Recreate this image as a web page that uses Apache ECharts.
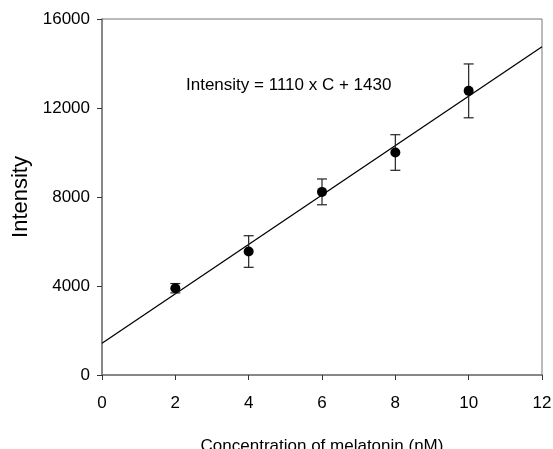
<!DOCTYPE html>
<html>
<head>
<meta charset="utf-8">
<script src="https://cdn.jsdelivr.net/npm/echarts@6/dist/echarts.min.js"></script>
<style>
  html, body { margin: 0; padding: 0; background: #fff; }
  #main { width: 553px; height: 449px; }
</style>
</head>
<body>
<div id="main"></div>
<script>
// melatonin calibration
const concentration = [2, 4, 6, 8, 10];
const intensity = [3900, 5550, 8230, 10000, 12770];
const errorSize = [210, 710, 580, 800, 1210];
const fitLine = [[0, 1430], [12, 14750]];
const equationText = 'Intensity = 1110 x C + 1430';

let chartDom = document.getElementById('main');
let myChart = echarts.init(chartDom);

const font = 'Liberation Sans, Arial, sans-serif';

const points = concentration.map((c, i) => [c, intensity[i]]);
const errData = concentration.map((c, i) => [c, intensity[i] - errorSize[i], intensity[i] + errorSize[i]]);

const option = {
  animation: false,
  backgroundColor: '#fff',
  textStyle: { fontFamily: font },
  grid: {
    left: 102, right: 11, top: 19, bottom: 74,
    outerBoundsMode: 'none',
    containLabel: false,
    show: true, borderColor: '#777', borderWidth: 1
  },
  graphic: [{
    type: 'text',
    left: 186, top: 77,
    style: { text: equationText, font: '17px ' + font, fill: '#000' }
  }],
  xAxis: {
    type: 'value',
    min: 0, max: 12, interval: 2,
    name: 'Concentration of melatonin (nM)',
    nameLocation: 'middle',
    nameGap: 63,
    nameTextStyle: { fontSize: 17, color: '#000', fontFamily: font },
    axisLine: { onZero: false, lineStyle: { color: '#777', width: 1.5 } },
    axisTick: { inside: false, length: 5, lineStyle: { color: '#333' } },
    axisLabel: { fontSize: 17, color: '#000', margin: 20, fontFamily: font },
    splitLine: { show: false }
  },
  yAxis: {
    type: 'value',
    min: 0, max: 16000, interval: 4000,
    name: 'Intensity',
    nameLocation: 'middle',
    nameGap: 62,
    nameTextStyle: { fontSize: 22, color: '#000', fontFamily: font },
    axisLine: { show: true, onZero: false, lineStyle: { color: '#777', width: 1.5 } },
    axisTick: { show: true, inside: false, length: 5, lineStyle: { color: '#333' } },
    axisLabel: { fontSize: 17, color: '#000', margin: 12, fontFamily: font, formatter: v => String(v) },
    splitLine: { show: false }
  },
  series: [
    {
      type: 'line',
      data: fitLine,
      showSymbol: false,
      symbol: 'none',
      lineStyle: { color: '#000', width: 1.3 },
      z: 2
    },
    {
      type: 'custom',
      data: errData,
      renderItem: function (params, api) {
        const x = api.value(0);
        const lo = api.coord([x, api.value(1)]);
        const hi = api.coord([x, api.value(2)]);
        const cap = 5;
        const style = { stroke: '#222', lineWidth: 1.2 };
        return {
          type: 'group',
          children: [
            { type: 'line', shape: { x1: lo[0], y1: lo[1], x2: hi[0], y2: hi[1] }, style: style },
            { type: 'line', shape: { x1: lo[0] - cap, y1: lo[1], x2: lo[0] + cap, y2: lo[1] }, style: style },
            { type: 'line', shape: { x1: hi[0] - cap, y1: hi[1], x2: hi[0] + cap, y2: hi[1] }, style: style }
          ]
        };
      },
      z: 3
    },
    {
      type: 'scatter',
      data: points,
      symbol: 'circle',
      symbolSize: 10,
      itemStyle: { color: '#000', opacity: 1 },
      z: 4
    }
  ]
};

myChart.setOption(option);
</script>
</body>
</html>
